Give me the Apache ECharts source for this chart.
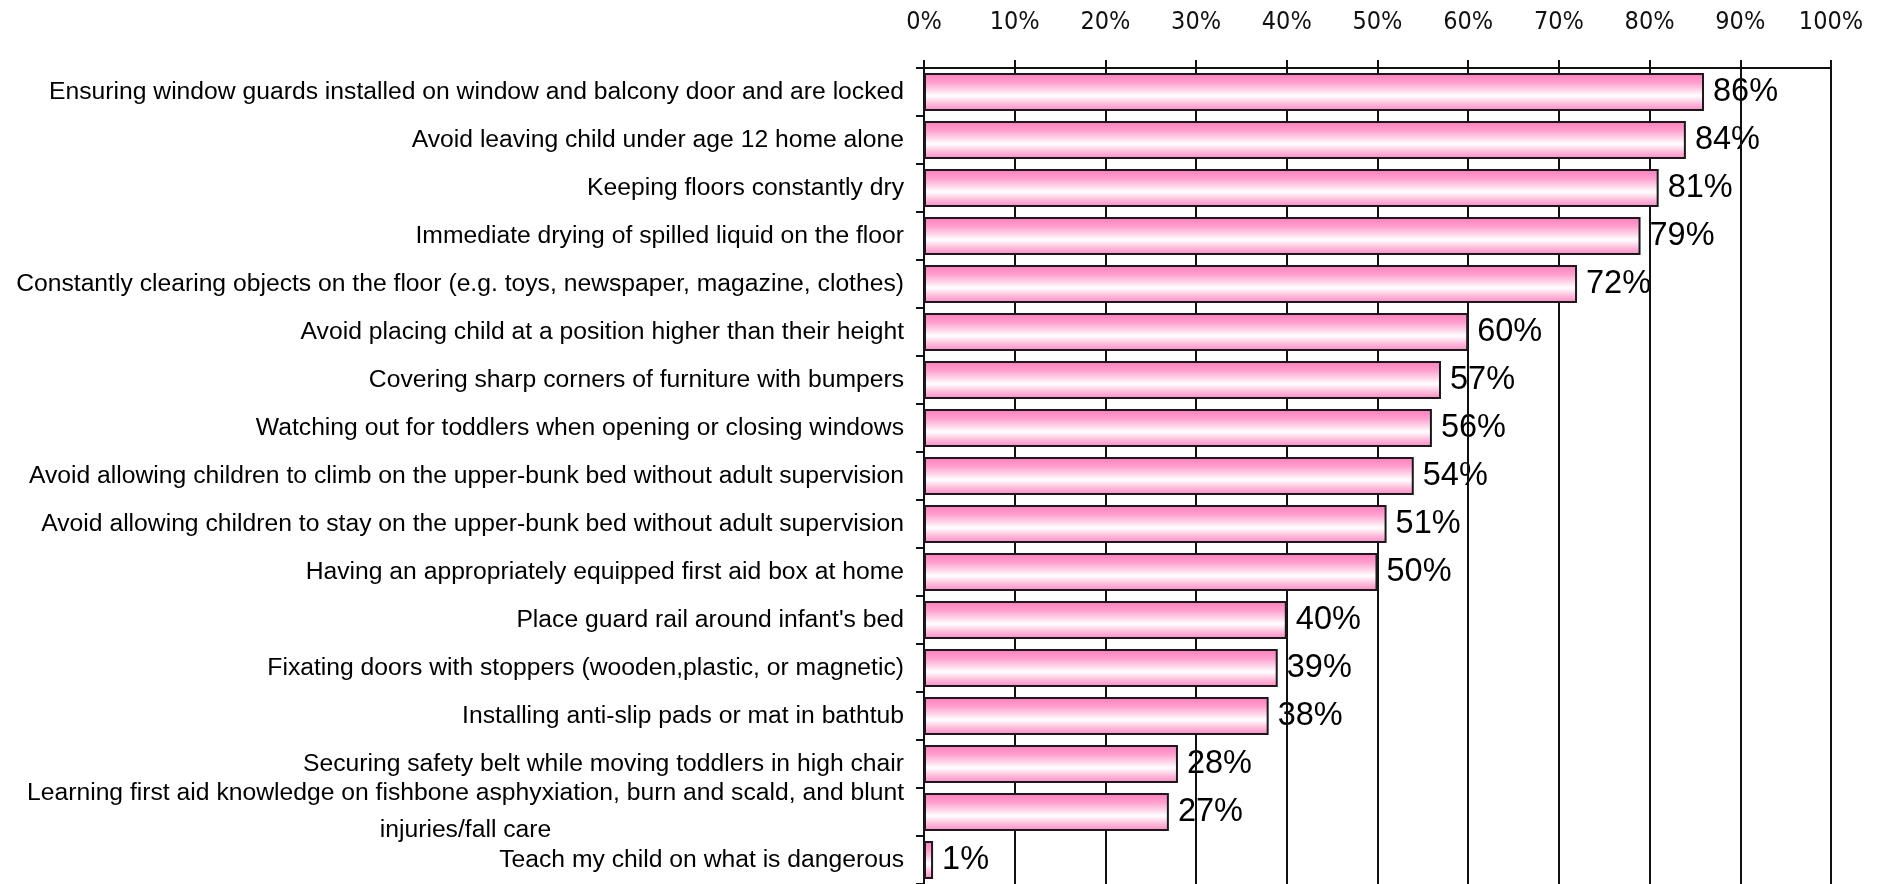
<!DOCTYPE html>
<html>
<head>
<meta charset="utf-8">
<script src="https://cdn.jsdelivr.net/npm/echarts@6/dist/echarts.min.js"></script>
<style>
  html, body { margin: 0; padding: 0; background: #fff; }
  #chart { width: 1879px; height: 884px; }
</style>
</head>
<body>
<div id="chart"></div>
<script>
// survey answers, top to bottom
const categories = [
  "Ensuring window guards installed on window and balcony door and are locked",
  "Avoid leaving child under age 12 home alone",
  "Keeping floors constantly dry",
  "Immediate drying of spilled liquid on the floor",
  "Constantly clearing objects on the floor (e.g. toys, newspaper, magazine, clothes)",
  "Avoid placing child at a position higher than their height",
  "Covering sharp corners of furniture with bumpers",
  "Watching out for toddlers when opening or closing windows",
  "Avoid allowing children to climb on the upper-bunk bed without adult supervision",
  "Avoid allowing children to stay on the upper-bunk bed without adult supervision",
  "Having an appropriately equipped first aid box at home",
  "Place guard rail around infant's bed",
  "Fixating doors with stoppers (wooden,plastic, or magnetic)",
  "Installing anti-slip pads or mat in bathtub",
  "Securing safety belt while moving toddlers in high chair",
  "Learning first aid knowledge on fishbone asphyxiation, burn and scald, and blunt\ninjuries/fall care",
  "Teach my child on what is dangerous"
];
const percents = [86, 84, 81, 79, 72, 60, 57, 56, 54, 51, 50, 40, 39, 38, 28, 27, 1];

const chart = echarts.init(document.getElementById('chart'));

const pinkFill = new echarts.graphic.LinearGradient(0, 0, 0, 1, [
  { offset: 0, color: '#ff7dbd' },
  { offset: 0.25, color: '#ff9fcf' },
  { offset: 0.6, color: '#ffffff' },
  { offset: 0.82, color: '#ffb8da' },
  { offset: 1, color: '#ff86c2' }
]);

chart.setOption({
  animation: false,
  grid: { left: 924, right: 48, top: 68, height: 822 },
  xAxis: {
    type: 'value',
    position: 'top',
    min: 0,
    max: 100,
    interval: 10,
    z: 2,
    axisLine: { show: true, lineStyle: { color: '#111', width: 2 } },
    axisTick: { show: true, length: 8, lineStyle: { color: '#111', width: 2 } },
    axisLabel: {
      margin: 33,
      formatter: '{value}%',
      color: '#111',
      fontSize: 25,
      fontFamily: '"DejaVu Sans Condensed", "Liberation Sans", sans-serif'
    },
    splitLine: { show: true, lineStyle: { color: '#111', width: 2 } }
  },
  yAxis: {
    type: 'category',
    inverse: true,
    data: categories,
    z: 2,
    axisLine: { show: true, lineStyle: { color: '#111', width: 2 } },
    axisTick: { show: true, length: 8, lineStyle: { color: '#111', width: 2 } },
    axisLabel: {
      margin: 20,
      color: '#000',
      fontSize: 24.7,
      fontFamily: '"Liberation Sans", Arial, sans-serif',
      formatter: function (val) {
        if (val.indexOf('\n') > -1) {
          const parts = val.split('\n');
          return '{a|' + parts[0] + '}\n{c|' + parts[1] + '}';
        }
        return val;
      },
      rich: {
        a: { fontSize: 24.7, lineHeight: 37, color: '#000' },
        c: { fontSize: 24.7, lineHeight: 37, color: '#000', align: 'center' }
      }
    }
  },
  series: [
    {
      // the visible bars, above the gridlines
      type: 'bar',
      data: percents,
      barWidth: 38,
      z: 3,
      itemStyle: { color: pinkFill, borderColor: '#1a1a1a', borderWidth: 2 },
      silent: true
    },
    {
      // value labels sit under the gridlines like in the original
      type: 'bar',
      data: percents,
      barWidth: 38,
      barGap: '-100%',
      z: 1,
      itemStyle: { color: 'rgba(0,0,0,0)' },
      label: {
        show: true,
        position: 'right',
        distance: 9,
        formatter: '{c}%',
        color: '#000',
        fontSize: 32.5,
        fontFamily: '"Liberation Sans", Arial, sans-serif'
      },
      silent: true
    }
  ]
});
</script>
</body>
</html>
